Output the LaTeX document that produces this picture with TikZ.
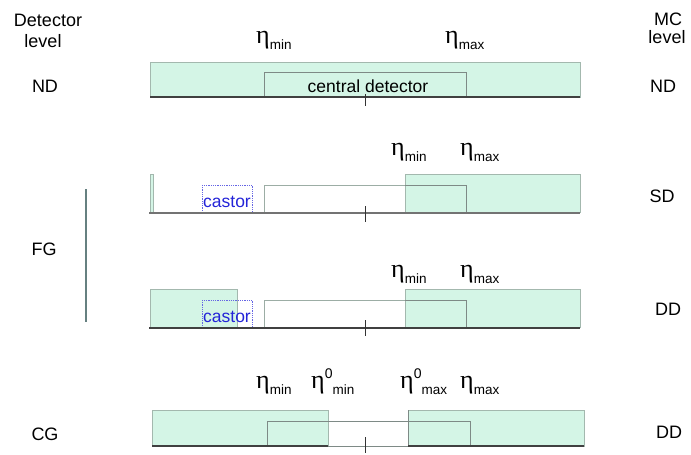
\documentclass[tikz,border=0pt]{standalone}
\usepackage{fontspec}
\setmainfont{Liberation Sans}
\newfontfamily\etaf{Liberation Serif}
\newcommand\myeta{{\etaf\fontsize{26}{26}\selectfont η}}
\newcommand\etalab[1]{\myeta\raisebox{-6pt}{\fontsize{13.5}{13.5}\selectfont #1}}
\newcommand\etazlab[1]{\myeta\raisebox{10pt}{\fontsize{14}{14}\selectfont 0}\raisebox{-6pt}{\fontsize{13.5}{13.5}\selectfont #1}}
\definecolor{mint}{HTML}{D4F5E6}
\definecolor{mintline}{HTML}{A3B8AE}
\definecolor{innerline}{HTML}{7E8A86}
\definecolor{castorblue}{HTML}{2424D8}
\tikzset{
  greenbar/.style={fill=mint,draw=mintline,line width=0.9pt},
  centralbox/.style={draw=innerline,line width=0.8pt},
  whitebox/.style={fill=white,draw=mintline!80!gray,line width=0.8pt},
  castorbox/.style={draw=castorblue!70!white,densely dotted,line width=0.8pt},
  baseline/.style={draw=black!75,line width=1.1pt},
  tickmark/.style={draw=black!80,line width=1pt},
  lab/.style={font=\fontsize{18}{18}\selectfont,inner sep=0pt},
  castorlab/.style={anchor=base,inner sep=0pt,text=castorblue,font=\fontsize{17.5}{17.5}\selectfont},
  etan/.style={anchor=base west,inner sep=0pt},
  levelline/.style={draw=gray!80!teal,line width=1.2pt}
}
\begin{document}
\begin{tikzpicture}[x=1pt,y=-1pt]
\useasboundingbox (0,0) rectangle (691,455);
% headers
\node[lab,anchor=base] (detl1) at (48,27) {Detector};
\node[lab,anchor=base] (detl2) at (43,47) {level};
\node[lab,anchor=base] (mcl1) at (668,25) {MC};
\node[lab,anchor=base] (mcl2) at (667,43) {level};
% ---- row 1 ND
\fill[greenbar] (150,62) rectangle (580,97);
\draw[centralbox] (264,72) rectangle (466,97);
\draw[baseline] (150,97) -- (580,97);
\draw[tickmark] (365,94) -- (365,106);
\node[lab,anchor=base,font=\fontsize{17.5}{17.5}\selectfont] (cd) at (368,92) {central detector};
\node[etan] (e1min) at (256,43) {\etalab{min}};
\node[etan] (e1max) at (445,43) {\etalab{max}};
\node[lab,anchor=base] (ndl) at (45,92) {ND};
\node[lab,anchor=base] (ndr) at (663,92) {ND};
% ---- row 2 SD
\draw[greenbar] (150,174) rectangle (153,212);
\draw[castorbox] (202,185) rectangle (252,212);
\node[castorlab] (cas1) at (227,207) {castor};
\draw[whitebox] (264,185) rectangle (466,212);
\draw[greenbar] (405,174) rectangle (580,212);
\draw[centralbox] (405,185) -- (466,185) -- (466,212);
\draw[baseline,draw=black!55] (149,213) -- (580,213);
\draw[tickmark] (365,206) -- (365,222);
\node[etan] (e2min) at (391,155) {\etalab{min}};
\node[etan] (e2max) at (460,155) {\etalab{max}};
\node[lab,anchor=base] (sdr) at (662,202) {SD};
% ---- FG
\draw[levelline] (86,189) -- (86,322);
\node[lab,anchor=base] (fg) at (44,255) {FG};
% ---- row 3 DD
\draw[greenbar] (150,289) rectangle (237,327);
\draw[castorbox] (202,300) rectangle (252,327);
\node[castorlab] (cas2) at (227,322) {castor};
\draw[whitebox] (264,300) rectangle (466,327);
\draw[greenbar] (405,289) rectangle (580,327);
\draw[centralbox] (405,300) -- (466,300) -- (466,327);
\draw[baseline] (149,328) -- (580,328);
\draw[tickmark] (365,320) -- (365,336);
\node[etan] (e3min) at (391,277) {\etalab{min}};
\node[etan] (e3max) at (460,277) {\etalab{max}};
\node[lab,anchor=base] (ddr1) at (668,315) {DD};
% ---- row 4 CG
\draw[greenbar] (152,410) rectangle (328,446);
\draw[greenbar] (408,410) rectangle (584,446);
\draw[centralbox] (267,421) rectangle (470,446);
\draw[centralbox,line width=1pt] (408,410) -- (408,446);
\draw[baseline] (152,446) -- (328,446);
\draw[baseline] (408,446) -- (584,446);
\draw[tickmark] (365,437) -- (365,453);
\node[etan] (e4min) at (256,388) {\etalab{min}};
\node[etan] (e4zmin) at (311,388) {\etazlab{min}};
\node[etan] (e4zmax) at (400,388) {\etazlab{max}};
\node[etan] (e4max) at (460,388) {\etalab{max}};
\node[lab,anchor=base] (cgl) at (45,440) {CG};
\node[lab,anchor=base] (ddr2) at (669,438) {DD};
\end{tikzpicture}
\end{document}
